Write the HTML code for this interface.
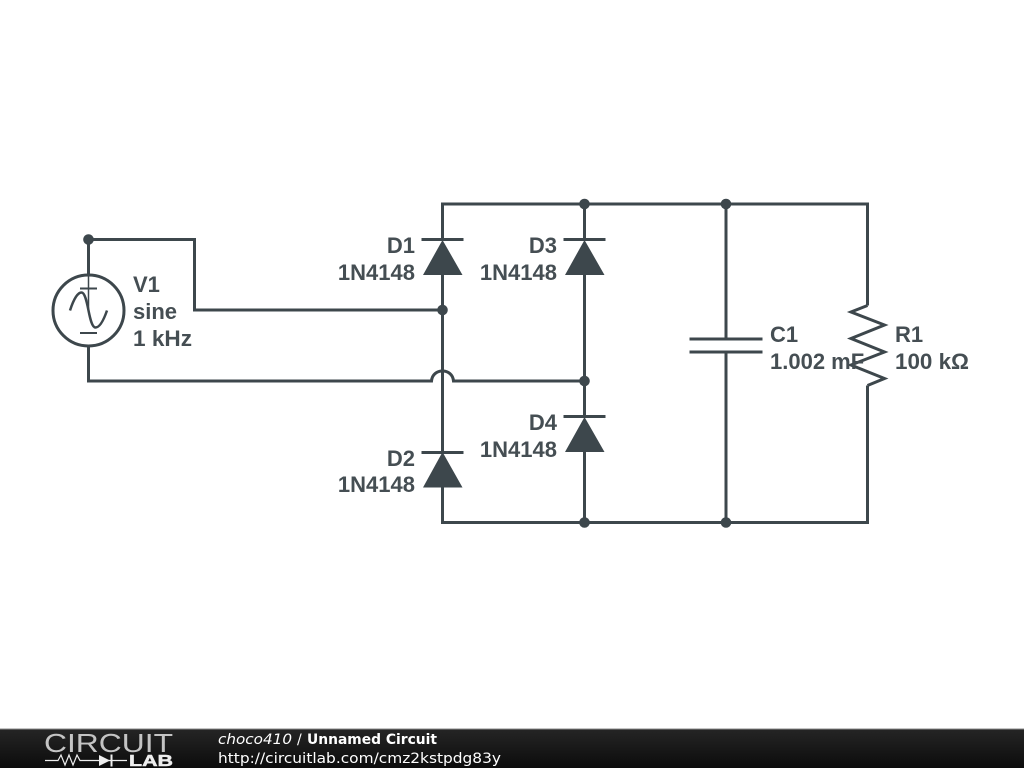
<!DOCTYPE html>
<html>
<head>
<meta charset="utf-8">
<style>
html,body{margin:0;padding:0;background:#fff;width:1024px;height:768px;overflow:hidden}
svg{display:block}
.w{fill:none;stroke:#3d474c;stroke-width:3}
.l{font-family:"Liberation Sans",sans-serif;font-weight:bold;font-size:22px;fill:#454e53}
.f{font-family:"DejaVu Sans",sans-serif;font-size:14px;fill:#fff}
</style>
</head>
<body>
<svg width="1024" height="768" viewBox="0 0 1024 768" xmlns="http://www.w3.org/2000/svg">
<defs>
<linearGradient id="g" x1="0" y1="0" x2="0" y2="1"><stop offset="0" stop-color="#252525"/><stop offset="1" stop-color="#0c0c0c"/></linearGradient>
</defs>
<rect width="1024" height="768" fill="#fff"/>
<!-- wires -->
<path class="w" d="M442.500 240V204H867.500V305.500M867.500 385.500V522.500H442.500V487"/>
<path class="w" d="M88.500 274V239.500H194.500V310H442.500"/>
<path class="w" d="M88.500 346V381H431.500C432 374.500 437 371 442.500 371C448 371 453 374.500 453.500 381H584.500"/>
<path class="w" d="M442.500 274V452"/>
<path class="w" d="M584.500 204V240M584.500 274V416M584.500 451V522"/>
<path class="w" d="M726 204V339M726 352V522"/>
<!-- diodes -->
<path class="w" d="M421.500 239.500H463.500M563.500 239.500H605.500M421.500 452.500H463.500M563.500 416.500H605.500"/>
<path fill="#3d474c" d="M442.500 240L462.500 275H423ZM584.500 240L604.500 275H565ZM442.500 452L462.500 487.500H423ZM584.500 417L604.500 452H565Z"/>
<!-- capacitor -->
<path class="w" d="M689.500 339H762.500M689.500 352H762.500"/>
<!-- resistor -->
<path class="w" d="M867.500 305.500L851 312L884.500 325L851 338.500L884.500 352L851 365L884.500 378.500L867.500 385.500"/>
<!-- source -->
<circle class="w" cx="88.500" cy="310.500" r="35.500"/>
<path class="w" style="stroke-width:1.500" d="M88.500 274V310"/>
<path class="w" style="stroke-width:2" d="M80 288.500H97M80 333H97"/>
<path class="w" style="stroke-width:2.500" d="M70 310.500C74 298 78 292.500 81.500 292.500C85 292.500 87 303 88.500 310.500C90 318 92 327.500 95.500 327.500C99 327.500 103 322 107 310.500"/>
<!-- dots -->
<g fill="#3d474c">
<circle cx="88.500" cy="239.500" r="5.300"/>
<circle cx="584.500" cy="204" r="5.300"/>
<circle cx="726" cy="204" r="5.300"/>
<circle cx="442.500" cy="310" r="5.300"/>
<circle cx="584.500" cy="381" r="5.300"/>
<circle cx="584.500" cy="522.500" r="5.300"/>
<circle cx="726" cy="522.500" r="5.300"/>
</g>
<!-- labels -->
<g class="l">
<text x="415" y="253" text-anchor="end">D1</text>
<text x="415" y="280" text-anchor="end">1N4148</text>
<text x="557" y="253" text-anchor="end">D3</text>
<text x="557" y="280" text-anchor="end">1N4148</text>
<text x="415" y="466" text-anchor="end">D2</text>
<text x="415" y="492" text-anchor="end">1N4148</text>
<text x="557" y="430" text-anchor="end">D4</text>
<text x="557" y="457" text-anchor="end">1N4148</text>
<text x="133" y="292">V1</text>
<text x="133" y="319">sine</text>
<text x="133" y="346" textLength="59" lengthAdjust="spacingAndGlyphs">1 kHz</text>
<text x="770" y="342">C1</text>
<text x="770" y="369">1.002 mF</text>
<text x="895" y="342">R1</text>
<text x="895" y="369" textLength="74" lengthAdjust="spacingAndGlyphs">100 kΩ</text>
</g>
<!-- footer -->
<rect x="0" y="729" width="1024" height="39" fill="url(#g)"/>
<rect x="0" y="728.500" width="1024" height="1" fill="#8a8a8a"/>
<text x="44" y="752" style="font-family:'Liberation Sans',sans-serif;font-size:26px;fill:#c4c4c4" textLength="129" lengthAdjust="spacingAndGlyphs">CIRCUIT</text>
<path fill="none" stroke="#eee" stroke-width="1.200" d="M45 760.500H58L61 755L65 765L69 755L73 765L77 755L80 760.500H127"/>
<path fill="#eee" d="M99 755L110 760.500L99 766ZM110.500 754.500H112.500V766.500H110.500Z"/>
<text x="129" y="766" style="font-family:'Liberation Sans',sans-serif;font-weight:bold;font-size:16px;fill:#eee;stroke:#eee;stroke-width:.5" textLength="44" lengthAdjust="spacingAndGlyphs">LAB</text>
<text class="f" x="218" y="744" font-style="italic" textLength="74" lengthAdjust="spacingAndGlyphs">choco410</text>
<text class="f" x="297" y="744">/</text>
<text class="f" x="307" y="744" font-weight="bold" textLength="130" lengthAdjust="spacingAndGlyphs">Unnamed Circuit</text>
<text class="f" x="218" y="763" textLength="283" lengthAdjust="spacingAndGlyphs">http://circuitlab.com/cmz2kstpdg83y</text>
</svg>
</body>
</html>
